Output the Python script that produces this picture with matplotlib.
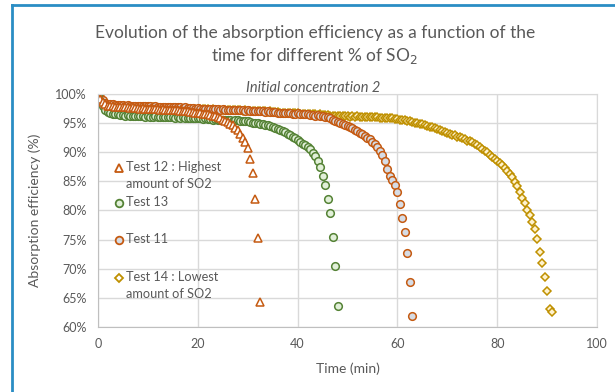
import numpy as np
import matplotlib.pyplot as plt
from matplotlib.lines import Line2D

# sampling every 0.5 min
step = 0.5

# Test 12 : highest amount of SO2 (t = 0 .. 32.5)
test12 = [100.0, 99.2, 98.6, 98.2, 98.0, 97.9, 97.9, 97.8, 97.8, 97.7,
          97.8, 97.7, 97.7, 97.6, 97.7, 97.6, 97.6, 97.5, 97.6, 97.5,
          97.5, 97.4, 97.5, 97.4, 97.4, 97.3, 97.4, 97.3, 97.3, 97.2,
          97.3, 97.2, 97.2, 97.1, 97.1, 97.0, 97.0, 96.9, 96.9, 96.8,
          96.8, 96.7, 96.6, 96.6, 96.5, 96.4, 96.3, 96.2, 96.0, 95.8,
          95.6, 95.4, 95.2, 94.9, 94.6, 94.2, 93.8, 93.2, 92.5, 91.7,
          90.7, 88.8, 86.4, 82.0, 75.3, 64.3]

# Test 13 (t = 0 .. 48)
test13 = [100.0, 98.8, 97.9, 97.3, 96.9, 96.7, 96.6, 96.5, 96.5, 96.4,
          96.4, 96.3, 96.4, 96.3, 96.3, 96.2, 96.3, 96.2, 96.2, 96.1,
          96.2, 96.1, 96.1, 96.2, 96.1, 96.0, 96.1, 96.0, 96.1, 96.0,
          96.0, 95.9, 96.0, 95.9, 96.0, 95.9, 95.9, 95.8, 95.9, 95.8,
          95.8, 95.8, 95.7, 95.8, 95.7, 95.7, 95.6, 95.7, 95.6, 95.6,
          95.5, 95.6, 95.5, 95.5, 95.4, 95.5, 95.5, 95.4, 95.4, 95.3,
          95.3, 95.2, 95.1, 95.0, 95.0, 94.9, 94.8, 94.7, 94.6, 94.5,
          94.3, 94.2, 94.0, 93.8, 93.6, 93.4, 93.2, 92.9, 92.6, 92.4,
          92.1, 91.8, 91.5, 91.2, 90.9, 90.5, 89.9, 89.3, 88.5, 87.5,
          86.0, 84.3, 81.9, 79.5, 75.4, 70.5, 63.6]

# Test 11 (t = 0 .. 63)
test11 = [100.0, 99.4, 98.9, 98.5, 98.3, 98.2, 98.2, 98.1, 98.1, 98.1,
          98.1, 98.0, 98.1, 98.0, 98.0, 98.0, 97.9, 98.0, 97.9, 97.9,
          97.9, 97.9, 97.8, 97.9, 97.8, 97.8, 97.8, 97.8, 97.7, 97.8,
          97.7, 97.7, 97.7, 97.7, 97.6, 97.7, 97.6, 97.6, 97.6, 97.5,
          97.6, 97.5, 97.5, 97.5, 97.4, 97.5, 97.4, 97.4, 97.4, 97.3,
          97.4, 97.3, 97.3, 97.3, 97.2, 97.3, 97.2, 97.2, 97.2, 97.1,
          97.2, 97.1, 97.1, 97.0, 97.1, 97.0, 97.0, 96.9, 97.0, 96.9,
          96.9, 96.9, 96.8, 96.8, 96.8, 96.7, 96.7, 96.7, 96.6, 96.6,
          96.7, 96.6, 96.5, 96.5, 96.5, 96.4, 96.4, 96.3, 96.4, 96.2,
          96.3, 96.1, 96.0, 95.8, 95.6, 95.4, 95.2, 95.0, 94.9, 94.7,
          94.5, 94.3, 94.1, 93.8, 93.6, 93.3, 93.1, 92.8, 92.5, 92.2,
          91.8, 91.4, 90.9, 90.3, 89.6, 88.5, 87.2, 86.0, 85.2, 84.3,
          83.2, 81.1, 78.7, 76.3, 72.7, 67.7, 61.9]

# Test 14 : lowest amount of SO2 (t = 0 .. 91)
test14 = [100.0, 99.0, 98.4, 98.0, 97.9, 97.8, 97.8, 97.8, 97.7, 97.8,
          97.8, 97.7, 97.7, 97.8, 97.7, 97.7, 97.7, 97.6, 97.7, 97.7,
          97.7, 97.6, 97.7, 97.6, 97.6, 97.6, 97.6, 97.5, 97.6, 97.6,
          97.5, 97.6, 97.5, 97.5, 97.5, 97.5, 97.4, 97.5, 97.5, 97.4,
          97.5, 97.4, 97.4, 97.4, 97.4, 97.3, 97.4, 97.3, 97.3, 97.3,
          97.3, 97.3, 97.2, 97.3, 97.2, 97.2, 97.2, 97.2, 97.1, 97.2,
          97.1, 97.1, 97.1, 97.0, 97.1, 97.0, 97.0, 97.0, 96.9, 97.0,
          96.9, 96.9, 96.9, 96.8, 96.8, 96.8, 96.8, 96.7, 96.7, 96.7,
          96.7, 96.6, 96.6, 96.6, 96.5, 96.6, 96.5, 96.5, 96.4, 96.5,
          96.4, 96.4, 96.4, 96.3, 96.3, 96.3, 96.3, 96.2, 96.2, 96.2,
          96.2, 96.1, 96.2, 96.1,
          96.2, 96.1, 96.1, 96.1, 96.1, 96.0, 96.0, 96.0, 96.0, 95.9,
          95.9, 95.9, 95.9, 95.8, 95.8, 95.7, 95.7, 95.6, 95.6, 95.5,
          95.4, 95.3, 95.2, 95.1, 95.0, 94.9, 94.8, 94.7, 94.5, 94.4,
          94.3, 94.1, 94.0, 93.8, 93.7, 93.5, 93.3, 93.2, 93.0, 92.9,
          92.7, 92.6, 92.4, 92.2, 92.0, 91.9, 91.7, 91.4, 91.2, 90.9,
          90.6, 90.3, 90.0, 89.6, 89.2, 88.9, 88.5, 88.1, 87.8, 87.3,
          86.8, 86.3, 85.8, 84.9, 84.2, 83.2, 82.1, 81.3, 80.1, 79.2,
          78.0, 76.8, 75.1, 72.9, 71.0, 68.6, 66.2, 63.1, 62.6]

series = [
    ("Test 12 : Highest\namount of SO2", test12, "^", "#C55A11", "#FFFFFF"),
    ("Test 13", test13, "o", "#548235", "#E2F0D9"),
    ("Test 11", test11, "o", "#C55A11", "#D6DCE5"),
    ("Test 14 : Lowest\namount of SO2", test14, "D", "#BF9000", "#FFF2CC"),
]
# legend rows (pixel y of the first text line in the 615x392 picture)
legend_rows = [168, 203, 240, 278]

plt.rcParams['font.family'] = ['Lato', 'DejaVu Sans']
grey = "#595959"
W, H = 615, 392

fig = plt.figure(figsize=(6.15, 3.92), dpi=100)
ax = fig.add_axes([98 / W, 65 / H, 499 / W, 233 / H])

def msize(mk):
    return 4.4 if mk == "D" else 5.5

# draw in reverse so the first series sits on top like in Excel
for label, vals, mk, ec, fc in reversed(series):
    t = np.arange(len(vals)) * step
    ax.plot(t, vals, linestyle="none", marker=mk, markersize=msize(mk),
            markeredgecolor=ec, markerfacecolor=fc, markeredgewidth=1.1)

ax.set_xlim(0, 100)
ax.set_ylim(60, 100)
ax.set_xticks(np.arange(0, 101, 20))
ax.set_yticks(np.arange(60, 101, 5))
ax.set_yticklabels([f"{v}%" for v in range(60, 101, 5)])
ax.grid(True, color="#D9D9D9", linewidth=1)
ax.set_axisbelow(True)
for s in ax.spines.values():
    s.set_color("#D9D9D9")
ax.spines['left'].set_color("#BFBFBF")
ax.spines['bottom'].set_color("#BFBFBF")
ax.tick_params(length=0, colors=grey, labelsize=9, pad=8)

ax.set_xlabel("Time (min)", color=grey, fontsize=10, labelpad=9)
ax.set_ylabel("Absorption efficiency (%)", color=grey, fontsize=10, labelpad=10)

# legend drawn by hand, Excel style
for (label, vals, mk, ec, fc), py in zip(series, legend_rows):
    fig.add_artist(Line2D([119 / W], [1 - py / H], linestyle="none", marker=mk,
                          markersize=msize(mk), markeredgecolor=ec,
                          markerfacecolor="#FFFFFF" if mk != "o" else fc,
                          markeredgewidth=1.3))
    fig.text(126 / W, 1 - (py - 7) / H, label, ha="left", va="top",
             color=grey, fontsize=9.2, linespacing=1.45)

fig.text(0.512, 1 - 33 / H, "Evolution of the absorption efficiency as a function of the",
         ha="center", va="center", color=grey, fontsize=12.5)
fig.text(0.512, 1 - 56 / H, "time for different % of SO$_2$",
         ha="center", va="center", color=grey, fontsize=12.5)
fig.text(0.509, 1 - 88 / H, "Initial concentration 2", ha="center", va="center",
         color=grey, fontsize=10.5, style="italic")

# frame lines on the left and top of the figure
fig.add_artist(Line2D([12 / W, 12 / W], [0, 1 - 5 / H], color="#2A8DC4", lw=2))
fig.add_artist(Line2D([12 / W, 1], [1 - 5 / H, 1 - 5 / H], color="#2A8DC4", lw=2))

fig.savefig("out.png", dpi=100)
